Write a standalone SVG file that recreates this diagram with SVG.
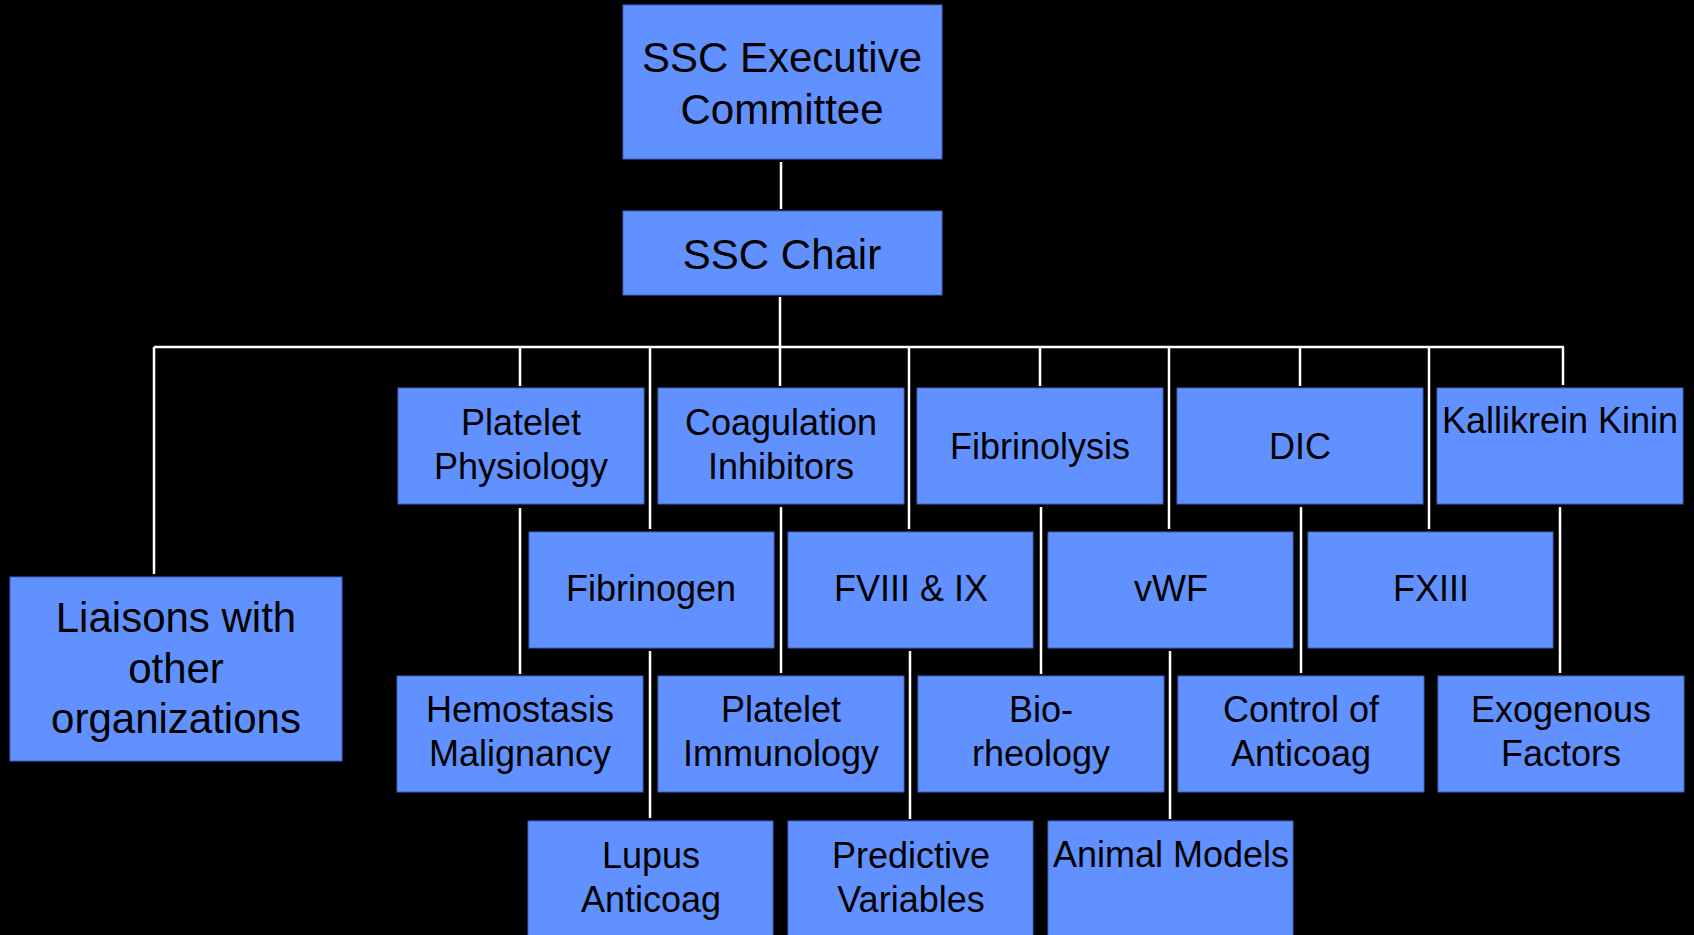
<svg xmlns="http://www.w3.org/2000/svg" width="1694" height="935" viewBox="0 0 1694 935">
  <style>
    .box { fill: #6190ff; stroke: #3f64c4; stroke-width: 1; }
    .lbl { font-family: "Liberation Sans", Arial, sans-serif; fill: #000; text-anchor: middle; }
    .big { font-size: 42px; }
    .std { font-size: 36px; }
    .wire { stroke: #ffffff; stroke-width: 2.5; fill: none; }
  </style>
  <rect x="0" y="0" width="1694" height="935" fill="#000"/>

  <!-- connectors -->
  <g id="connectors" class="wire">
    <line x1="781" y1="162" x2="781" y2="209"/>
    <line x1="780" y1="297" x2="780" y2="347"/>
    <line x1="154" y1="347" x2="1564" y2="347"/>
    <line x1="154" y1="347" x2="154" y2="574"/>
    <line x1="520" y1="347" x2="520" y2="386"/>
    <line x1="650" y1="347" x2="650" y2="529"/>
    <line x1="780" y1="347" x2="780" y2="386"/>
    <line x1="909" y1="347" x2="909" y2="529"/>
    <line x1="1040" y1="347" x2="1040" y2="386"/>
    <line x1="1169" y1="347" x2="1169" y2="529"/>
    <line x1="1300" y1="347" x2="1300" y2="386"/>
    <line x1="1429" y1="347" x2="1429" y2="529"/>
    <line x1="1563" y1="347" x2="1563" y2="385"/>
    <line x1="520" y1="508" x2="520" y2="674"/>
    <line x1="781" y1="507" x2="781" y2="673"/>
    <line x1="1041" y1="507" x2="1041" y2="674"/>
    <line x1="1301" y1="507" x2="1301" y2="673"/>
    <line x1="1560" y1="507" x2="1560" y2="673"/>
    <line x1="650" y1="651" x2="650" y2="818"/>
    <line x1="910" y1="651" x2="910" y2="819"/>
    <line x1="1170" y1="651" x2="1170" y2="819"/>
  </g>

  <!-- top level -->
  <g id="exec">
    <rect class="box" x="623" y="5" width="319" height="154"/>
    <text class="lbl big" x="782" y="72">SSC Executive</text>
    <text class="lbl big" x="782" y="124">Committee</text>
  </g>
  <g id="chair">
    <rect class="box" x="623" y="211" width="319" height="84"/>
    <text class="lbl big" x="782" y="269">SSC Chair</text>
  </g>
  <g id="liaisons">
    <rect class="box" x="10" y="577" width="332" height="184"/>
    <text class="lbl big" x="176" y="632">Liaisons with</text>
    <text class="lbl big" x="176" y="683">other</text>
    <text class="lbl big" x="176" y="733">organizations</text>
  </g>

  <!-- row 1 -->
  <g id="platelet-physiology">
    <rect class="box" x="398" y="388" width="246" height="116"/>
    <text class="lbl std" x="521" y="435">Platelet</text>
    <text class="lbl std" x="521" y="479">Physiology</text>
  </g>
  <g id="coagulation-inhibitors">
    <rect class="box" x="658" y="388" width="246" height="116"/>
    <text class="lbl std" x="781" y="435">Coagulation</text>
    <text class="lbl std" x="781" y="479">Inhibitors</text>
  </g>
  <g id="fibrinolysis">
    <rect class="box" x="917" y="388" width="246" height="116"/>
    <text class="lbl std" x="1040" y="459">Fibrinolysis</text>
  </g>
  <g id="dic">
    <rect class="box" x="1177" y="388" width="246" height="116"/>
    <text class="lbl std" x="1300" y="459">DIC</text>
  </g>
  <g id="kallikrein-kinin">
    <rect class="box" x="1437" y="388" width="246" height="116"/>
    <text class="lbl std" x="1560" y="433">Kallikrein Kinin</text>
  </g>

  <!-- row 2 -->
  <g id="fibrinogen">
    <rect class="box" x="529" y="532" width="245" height="116"/>
    <text class="lbl std" x="651" y="601">Fibrinogen</text>
  </g>
  <g id="fviii-ix">
    <rect class="box" x="788" y="532" width="245" height="116"/>
    <text class="lbl std" x="911" y="601">FVIII &amp; IX</text>
  </g>
  <g id="vwf">
    <rect class="box" x="1048" y="532" width="245" height="116"/>
    <text class="lbl std" x="1171" y="601">vWF</text>
  </g>
  <g id="fxiii">
    <rect class="box" x="1308" y="532" width="245" height="116"/>
    <text class="lbl std" x="1431" y="601">FXIII</text>
  </g>

  <!-- row 3 -->
  <g id="hemostasis-malignancy">
    <rect class="box" x="397" y="676" width="246" height="116"/>
    <text class="lbl std" x="520" y="722">Hemostasis</text>
    <text class="lbl std" x="520" y="766">Malignancy</text>
  </g>
  <g id="platelet-immunology">
    <rect class="box" x="658" y="676" width="246" height="116"/>
    <text class="lbl std" x="781" y="722">Platelet</text>
    <text class="lbl std" x="781" y="766">Immunology</text>
  </g>
  <g id="biorheology">
    <rect class="box" x="918" y="676" width="246" height="116"/>
    <text class="lbl std" x="1041" y="722">Bio-</text>
    <text class="lbl std" x="1041" y="766">rheology</text>
  </g>
  <g id="control-anticoag">
    <rect class="box" x="1178" y="676" width="246" height="116"/>
    <text class="lbl std" x="1301" y="722">Control of</text>
    <text class="lbl std" x="1301" y="766">Anticoag</text>
  </g>
  <g id="exogenous-factors">
    <rect class="box" x="1438" y="676" width="246" height="116"/>
    <text class="lbl std" x="1561" y="722">Exogenous</text>
    <text class="lbl std" x="1561" y="766">Factors</text>
  </g>

  <!-- row 4 -->
  <g id="lupus-anticoag">
    <rect class="box" x="528" y="821" width="245" height="118"/>
    <text class="lbl std" x="651" y="868">Lupus</text>
    <text class="lbl std" x="651" y="912">Anticoag</text>
  </g>
  <g id="predictive-variables">
    <rect class="box" x="788" y="821" width="245" height="118"/>
    <text class="lbl std" x="911" y="868">Predictive</text>
    <text class="lbl std" x="911" y="912">Variables</text>
  </g>
  <g id="animal-models">
    <rect class="box" x="1048" y="821" width="245" height="118"/>
    <text class="lbl std" x="1171" y="867">Animal Models</text>
  </g>
</svg>
